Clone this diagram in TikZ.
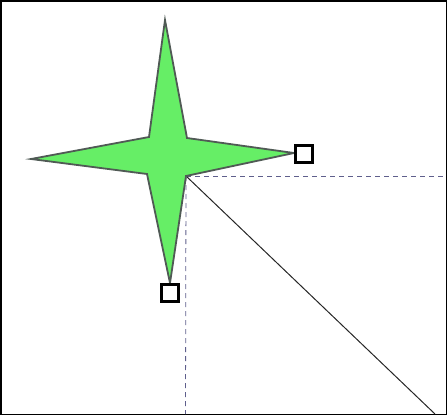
\documentclass[tikz,border=0pt]{standalone}
\begin{document}
\begin{tikzpicture}[x=1pt,y=-1pt,
  starshape/.style={fill={rgb,255:red,102;green,238;blue,102},draw={rgb,255:red,80;green,90;blue,85},line width=1.8pt,line join=miter},
  handle/.style={draw=black,fill=white,line width=2.2pt,minimum size=17pt,inner sep=0pt,outer sep=0pt},
  guide/.style={draw={rgb,255:red,95;green,95;blue,140},dash pattern=on 5pt off 4pt,line width=0.8pt},
  ray/.style={draw=black!85,line width=1pt}]
\useasboundingbox (0,0) rectangle (447,415);
\draw[black,line width=1.5pt] (0.75,0.75) rectangle (446.25,414.25);
\coordinate (top) at (165,20);
\coordinate (left) at (31,159);
\coordinate (right) at (294,153);
\coordinate (bottom) at (170,283);
\coordinate (tl) at (149,137);
\coordinate (tr) at (187,138);
\coordinate (bl) at (147,174);
\coordinate (br) at (186,176);
\coordinate (hend) at (446,176);
\coordinate (vend) at (185.5,414);
\coordinate (dend) at (435,414);
\draw[guide] (br) -- (hend);
\draw[guide] (br) -- (vend);
\draw[ray] (br) -- (dend);
\path[starshape] (top) -- (tr) -- (right) -- (br) -- (bottom) -- (bl) -- (left) -- (tl) -- cycle;
\node[handle] (hr) at (304,154) {};
\node[handle] (hb) at (170,293) {};
\end{tikzpicture}
\end{document}
